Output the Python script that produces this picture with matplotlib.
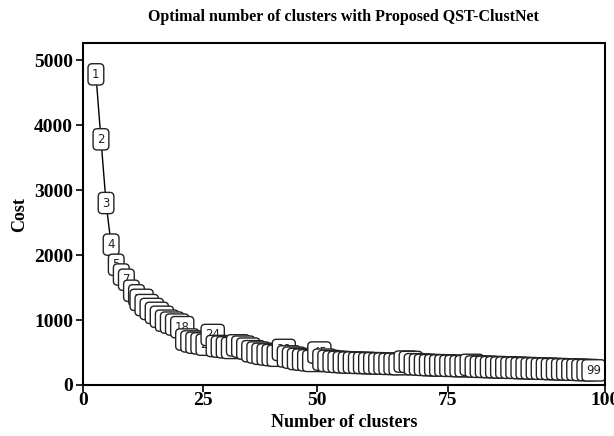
import numpy as np
import matplotlib
matplotlib.use("Agg")
import matplotlib.pyplot as plt

# label index (1..99) and estimated cost
labels = np.arange(1, 100)
cost = [4780, 3780, 2800, 2160, 1850, 1700, 1620, 1450, 1380, 1310,
        1230, 1170, 1110, 1050, 990, 960, 930, 890, 700, 670,
        650, 640, 620, 770, 600, 590, 580, 570, 610, 590,
        560, 520, 500, 480, 470, 460, 450, 540, 440, 420,
        400, 390, 380, 370, 500, 390, 370, 360, 355, 350,
        345, 345, 340, 340, 335, 335, 330, 330, 325, 325,
        320, 360, 355, 320, 315, 310, 305, 305, 300, 300,
        295, 295, 290, 290, 310, 285, 280, 280, 275, 275,
        270, 270, 265, 265, 260, 260, 255, 255, 250, 250,
        245, 245, 240, 240, 235, 235, 230, 230, 225]

# tick labels sit at uneven spots in the original figure
xtick_pos = [-1.56, 22.1, 44.5, 70.3, 101.2]
xtick_lab = ["0", "25", "50", "75", "100"]
ytick_pos = [0, 1000, 2000, 3000, 4000, 5000]

serif = ["Liberation Serif", "DejaVu Serif"]

fig = plt.figure(figsize=(6.14, 4.36), dpi=100)
ax = fig.add_axes([0.135, 0.117, 0.85, 0.784])

ax.plot(labels, cost, color="black", lw=1.0, zorder=1)
for k, c in zip(labels, cost):
    ax.text(k, c, str(k), ha="center", va="center", fontsize=8.5, color="#222222", zorder=2,
            bbox=dict(boxstyle="round,pad=0.35", fc="white", ec="#222222", lw=1.0))

ax.set_xlim(-1.56, 101.2)
ax.set_ylim(0, 5260)
ax.set_xticks(xtick_pos, xtick_lab)
ax.set_yticks(ytick_pos)
for t in ax.get_xticklabels() + ax.get_yticklabels():
    t.set_fontfamily(serif); t.set_fontweight("bold"); t.set_fontsize(14)
ax.tick_params(direction="out", length=5, width=1.2, pad=2)
ax.tick_params(axis="x", pad=0)
for s in ax.spines.values():
    s.set_linewidth(1.5)

ax.set_xlabel("Number of clusters", fontfamily=serif, fontweight="bold", fontsize=13, labelpad=4)
ax.set_ylabel("Cost", fontfamily=serif, fontweight="bold", fontsize=13, labelpad=4)
ax.set_title("Optimal number of clusters with Proposed QST-ClustNet",
             fontfamily=serif, fontweight="bold", fontsize=11.5, pad=16)

fig.savefig("out.png", dpi=100)
